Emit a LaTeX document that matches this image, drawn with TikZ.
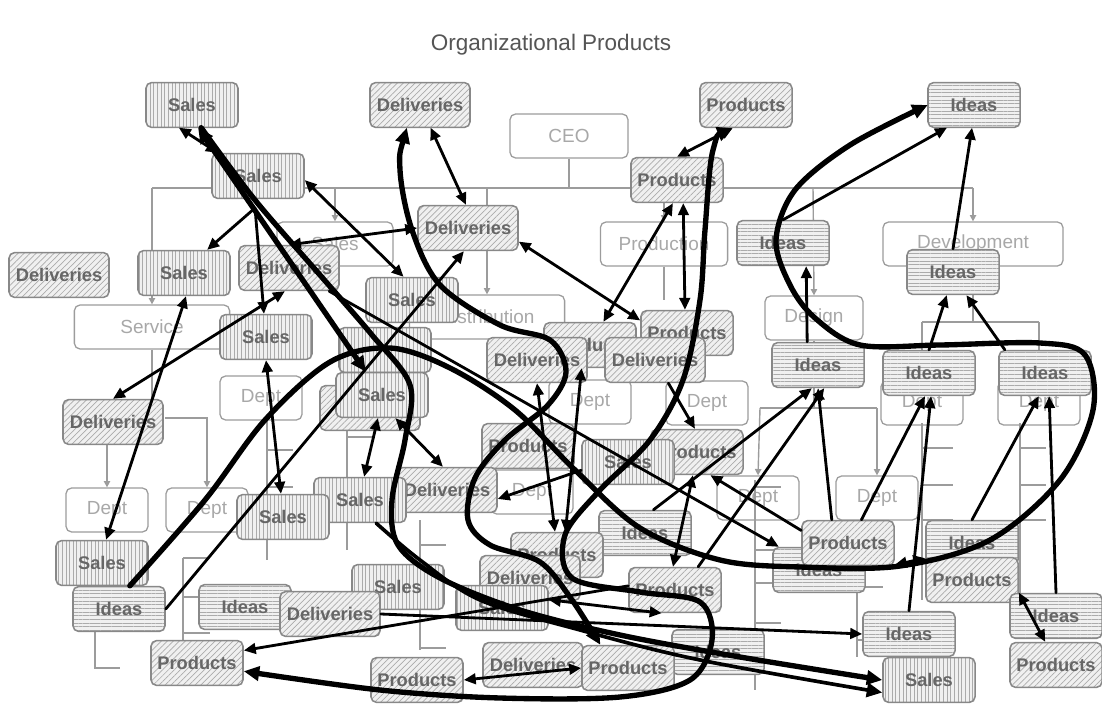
\documentclass[tikz,border=0pt]{standalone}
\usepackage{fontspec}
\setmainfont{Liberation Sans}
\usetikzlibrary{patterns.meta,arrows.meta}
\definecolor{boxline}{HTML}{888888}
\definecolor{boxtext}{HTML}{666666}
\definecolor{orgtext}{HTML}{A8A8A8}
\definecolor{orgline}{HTML}{9C9C9C}
\definecolor{hatch}{HTML}{ABABAB}
\definecolor{tint}{HTML}{F0F0F0}
\definecolor{titletext}{HTML}{555555}

\begin{document}
\begin{tikzpicture}[x=0.025cm, y=-0.025cm,
  lab/.style={draw=boxline, line width=1.1pt, rounded corners=4pt, inner sep=1pt,
    font=\fontsize{13}{15}\selectfont\bfseries, text=boxtext,
    minimum width=2.3cm, minimum height=1.12cm,
    preaction={fill=tint}, pattern color=hatch},
  sal/.style={lab, pattern={Lines[angle=90,distance=2.6pt,line width=0.4pt]}},
  ide/.style={lab, pattern={Lines[angle=0,distance=2.6pt,line width=0.4pt]}},
  pro/.style={lab, pattern={Lines[angle=45,distance=3pt,line width=0.5pt]}},
  del/.style={pro, minimum width=2.5cm},
  org/.style={draw=orgline, line width=0.9pt, rounded corners=4pt, fill=white,
    font=\fontsize{13.5}{15}\selectfont, text=orgtext, minimum height=1.1cm, inner sep=1pt},
  dept/.style={org, minimum width=2.05cm},
  ol/.style={draw=orgline, line width=1pt},
  oa/.style={ol, -{Triangle[length=4.5pt,width=4.5pt]}},
  lad/.style={draw=orgline, line width=2pt},
  ln/.style={line width=2pt, line cap=round, -{Triangle[length=8.5pt,width=7.5pt]}},
  lnb/.style={line width=2pt, {Triangle[length=8.5pt,width=7.5pt]}-{Triangle[length=8.5pt,width=7.5pt]}},
  hv/.style={line width=3.8pt, line cap=round, line join=round},
  hva/.style={hv, -{Triangle[length=11pt,width=10pt]}},
  hvb/.style={hv, {Triangle[length=11pt,width=10pt]}-{Triangle[length=11pt,width=10pt]}}
]
\useasboundingbox (0,0) rectangle (1102,707);
\fill[white] (0,0) rectangle (1102,707);

\node[font=\fontsize{16}{18}\selectfont, text=titletext] (title) at (551,45) {Organizational Products};

% ---------- organisation chart ----------
\node[org, minimum width=2.95cm] (ceo) at (569,136) {CEO};
\draw[ol] (ceo.south) -- (569,188);
\draw[ol] (152,188) -- (973,188);
\node[org, minimum width=2.9cm] (osales) at (335,244) {Sales};
\node[org, minimum width=3.18cm] (production) at (664,244) {Production};
\node[org, minimum width=4.5cm] (development) at (973,244) {Development};
\node[org, minimum width=3.88cm] (distribution) at (487,317) {Distribution};
\node[org, minimum width=3.88cm] (service) at (152,327) {Service};
\node[org, minimum width=2.45cm] (design) at (814,318) {Design};
\draw[oa] (335,188) -- (osales.north);
\draw[oa] (487,188) -- (distribution.north);
\draw[oa] (664,188) -- (production.north);
\draw[oa] (813,188) -- (design.north);
\draw[oa] (973,188) -- (development.north);
\draw[oa] (152,188) -- (service.north);

\node[dept] (dp1) at (107,510) {Dept};
\node[dept] (dp2) at (207,510) {Dept};
\node[dept] (dp3) at (261,398) {Dept};
\node[dept] (dp4) at (590,402) {Dept};
\node[dept] (dp5) at (707,403) {Dept};
\node[dept] (dp6) at (532,492) {Dept};
\node[dept] (dp7) at (758,498) {Dept};
\node[dept] (dp8) at (877,498) {Dept};
\node[dept] (dp9) at (922,403) {Dept};
\node[dept] (dp10) at (1039,403) {Dept};

\draw[ol] (service.south) -- (152,400);
\draw[oa] (107,444) -- (dp1.north);
\draw[oa] (165,418) -| (dp2.north);
\draw[ol] (production.south) -- (664,300);
\draw[ol] (design.south) -- (814,408);
\draw[ol] (760,408) -- (877,408);
\draw[oa] (760,408) -- (dp7.north);
\draw[oa] (877,408) -- (dp8.north);
\draw[ol] (development.south) -- (973,322);
\draw[ol] (922,322) -- (1039,322);
\draw[oa] (922,322) -- (dp9.north);
\draw[oa] (1039,322) -- (dp10.north);

% staff lists
\draw[lad] (267,420) -- (267,560) (267,450) -- (293,450) (267,487) -- (293,487) (267,523) -- (293,523);
\draw[lad] (347,420) -- (347,550) (347,437) -- (373,437) (347,520) -- (373,520);
\draw[lad] (183,558) -- (183,640) (183,558) -- (210,558) (183,597) -- (210,597) (183,633) -- (210,633);
\draw[lad] (420,520) -- (420,650) (420,545) -- (446,545) (420,648) -- (446,648);
\draw[lad] (755,480) -- (755,690) (755,487) -- (781,487) (755,550) -- (781,550) (755,583) -- (781,583) (755,623) -- (781,623);
\draw[lad] (857,560) -- (857,657) (857,587) -- (883,587) (857,640) -- (883,640);
\draw[lad] (922,423) -- (922,600) (922,448) -- (953,448) (922,485) -- (953,485) (922,520) -- (953,520) (922,560) -- (953,560);
\draw[lad] (1020,423) -- (1020,600) (1020,448) -- (1046,448) (1020,485) -- (1046,485) (1020,520) -- (1046,520);
\draw[lad] (95,632) -- (95,668) -- (120,668);

% ---------- work items ----------
\node[sal] (s1) at (192,105) {Sales};
\node[del] (d3) at (420,105) {Deliveries};
\node[pro] (p4) at (746,105) {Products};
\node[ide] (i5) at (974,105) {Ideas};
\node[sal] (s2) at (258,176) {Sales};
\node[pro] (p6) at (677,180) {Products};
\node[del] (d7) at (468,228) {Deliveries};
\node[del] (d8) at (59,275) {Deliveries};
\node[sal] (s9) at (184,273) {Sales};
\node[del] (d10) at (289,268) {Deliveries};
\node[ide] (i11) at (783,243) {Ideas};
\node[ide] (i12) at (953,272) {Ideas};
\node[sal] (s13b) at (385,350) {};
\node[sal] (s13) at (412,300) {Sales};
\node[sal] (s14) at (266,337) {Sales};
\node[pro] (p16) at (590,345) {Products};
\node[pro] (p15) at (687,333) {Products};
\node[del] (d17) at (537,360) {Deliveries};
\node[del] (d18) at (655,360) {Deliveries};
\node[ide] (i19) at (818,365) {Ideas};
\node[ide] (i20) at (929,373) {Ideas};
\node[ide] (i21) at (1045,373) {Ideas};
\node[del] (d22) at (113,422) {Deliveries};
\node[del] (d11) at (370,408) {};
\node[sal] (s23) at (382,395) {Sales};
\node[pro] (p24) at (528,446) {Products};
\node[pro] (p26) at (697,452) {Products};
\node[sal] (s25) at (628,462) {Sales};
\node[ide] (i41) at (819,570) {Ideas};
\node[pro] (p40) at (848,543) {Products};
\node[ide] (i42) at (972,543) {Ideas};
\node[pro] (p43) at (972,580) {Products};
\node[del] (d28) at (447,490) {Deliveries};
\node[sal] (s27) at (360,500) {Sales};
\node[sal] (s29) at (283,517) {Sales};
\node[sal] (s30) at (102,563) {Sales};
\node[ide] (i32) at (645,533) {Ideas};
\node[pro] (p33) at (557,555) {Products};
\node[del] (d34) at (530,578) {Deliveries};
\node[sal] (s35) at (398,587) {Sales};
\node[sal] (s38) at (502,608) {Sales};
\node[ide] (i31) at (119,609) {Ideas};
\node[ide] (i36) at (245,607) {Ideas};
\node[del] (d37) at (330,614) {Deliveries};
\node[pro] (p39) at (675,590) {Products};
\node[ide] (i46) at (1056,616) {Ideas};
\node[pro] (p47) at (1056,665) {Products};
\node[ide] (i44) at (909,634) {Ideas};
\node[sal] (s45) at (929,680) {Sales};
\node[ide] (i52) at (718,652) {Ideas};
\node[del] (d49) at (533,665) {Deliveries};
\node[pro] (p51) at (628,668) {Products};
\node[pro] (p50) at (417,680) {Products};
\node[pro] (p48) at (197,663) {Products};

% ---------- links ----------
\coordinate (hubA) at (255,208);
\draw[lnb] (s1.-120) -- (s2.150);
\draw[ln] (hubA) -- (s9.45);
\draw[ln] (hubA) -- (s14.95);
\draw[lnb] (d22.north) -- (d10.-100);
\draw[lnb] (s9.-85) -- (s30.80);
\draw[lnb] (s14.-90) -- (s29.95);
\draw[lnb] (s2.-5) -- (s13.110);
\draw[lnb] (d10.north) -- (d7.west);
\draw[lnb] (d3.-65) -- (d7.95);
\draw[lnb] (d7.-15) -- (p15.165);
\draw[lnb] (p6.north) -- (p4.-120);
\draw[lnb] (p6.-100) -- (p16.60);
\draw[lnb] (p6.-75) -- (p15.95);
\draw[ln] (d18.-60) -- (p26.95);
\draw[ln] (i31.east) -- (d7.-100);
\draw[ln] (i11.north) -- (i5.-140);
\draw[ln] (i12.north) -- (i5.-95);
\draw[ln] (i20.north) -- (i12.-105);
\draw[ln] (i21.150) -- (i12.-60);
\draw[ln] (i32.70) -- (i19.-105);
\draw[ln] (p40.125) -- (i19.-90);
\draw[ln] (p39.45) -- (i19.-75);
\draw[ln] (p40.60) -- (i20.-100);
\draw[ln] (i44.north) -- (i20.-85);
\draw[ln] (i42.north) -- (i21.-105);
\draw[ln] (i46.north) -- (i21.-80);
\draw[lnb] (p43.-15) -- (p47.115);
\draw[lnb] (p40.-25) -- (p43.155);
\draw[ln] (p40.165) -- (p26.-60);
\draw[lnb] (p39.95) -- (p26.-100);
\draw[ln] (p39.175) -- (p48.15);
\draw[lnb] (p50.east) -- (p51.west);
\draw[lnb] (s38.10) -- (p39.-120);
\draw[ln] (d37.east) -- (i44.west);
\draw[lnb] (s23.-100) -- (s27.80);
\draw[lnb] (s23.-60) -- (d28.100);
\draw[ln] (s25.-170) -- (d28.-10);
\draw[lnb] (d17.-90) -- (p33.95);
\draw[lnb] (p16.-110) -- (p33.70);
\draw[ln] (d10.-30) -- (i41.150);
\draw[ln] (i19.115) -- (i11.-45);

% heavy links
\draw[hvb] (s23.125) -- (s1.-75);
\draw[hva] plot[smooth, tension=0.55] coordinates {(s1.-68) (255,200) (320,275) (372,335) (410,385) (405,440) (392,500) (398,545) (440,578) (520,610) (620,635) (740,657) (s45.west)};
\draw[hva, line width=2.6pt] plot[smooth, tension=0.55] coordinates {(s27.-55) (420,560) (480,600) (580,630) (700,660) (s45.-165)};
\draw[hva] plot[smooth, tension=0.55] coordinates {(i31.65) (205,500) (265,420) (330,362) (390,348) (450,368) (515,410) (575,470) (640,528) (720,560) (800,567) (900,566) (990,540) (1060,480) (1093,410) (1085,355) (1040,343) (940,345) (860,345) (815,318) (790,285) (776,240) (795,190) (850,145) (i5.west)};
\draw[hvb] plot[smooth, tension=0.55] coordinates {(p4.-120) (713,150) (705,230) (700,300) (683,380) (650,440) (600,490) (565,535) (572,578) (640,592) (700,602) (712,640) (690,680) (620,697) (500,698) (380,690) (p48.-10)};
\draw[hvb] plot[smooth, tension=0.55] coordinates {(d3.-120) (400,170) (412,230) (440,285) (500,325) (550,340) (566,372) (548,405) (505,440) (475,478) (468,520) (490,545) (540,562) (572,600) (p51.140)};
\end{tikzpicture}
\end{document}
